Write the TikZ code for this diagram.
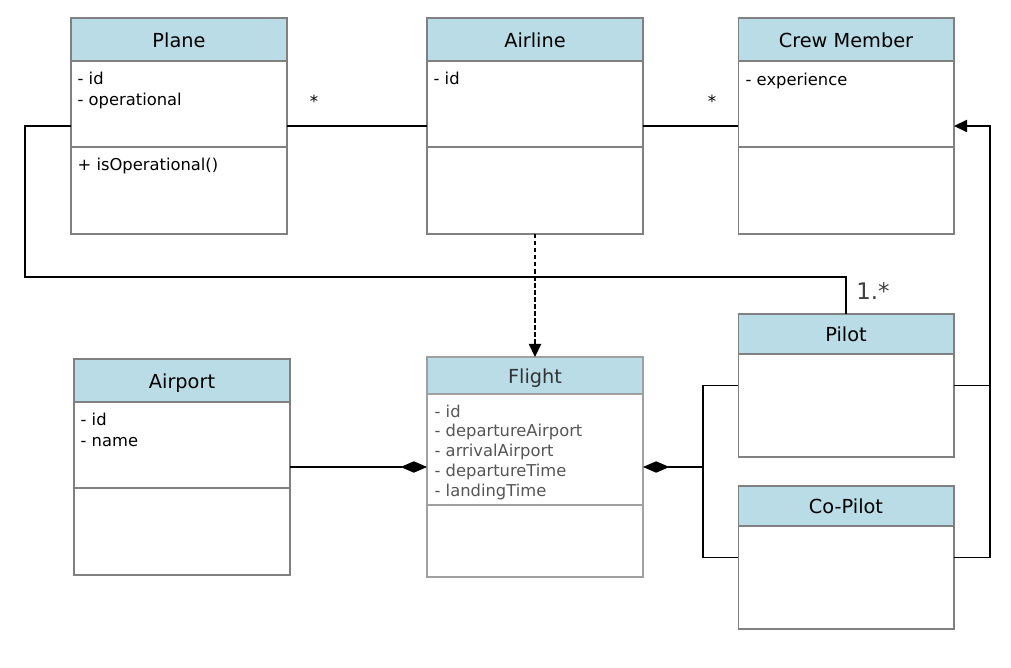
\documentclass[tikz,border=0pt]{standalone}
\usepackage{fontspec}
\setmainfont{DejaVu Sans}
\usetikzlibrary{arrows.meta, positioning}
\definecolor{headblue}{RGB}{185,220,230}
\definecolor{boxgray}{RGB}{128,128,128}
\definecolor{textgray}{RGB}{85,85,85}

\begin{document}
\begin{tikzpicture}[x=0.02cm,y=-0.02cm,line width=0.75pt,
	>={Triangle[length=7.5pt,width=7pt]}]

	\tikzset{class body/.style={draw=boxgray, line width=0.6pt, fill=white,
			minimum width=4.32cm, inner sep=0pt, outer sep=0pt}}
	\tikzset{class head/.style={draw=boxgray, line width=0.6pt, fill=headblue,
			minimum width=4.32cm, inner sep=0pt, outer sep=0pt, anchor=north,
			text height=0.9em, text depth=0pt,
			font=\fontsize{11}{13}\selectfont}}
	\tikzset{divider/.style={draw=boxgray, line width=0.6pt}}
	\tikzset{attr/.style={anchor=north west, align=left, inner sep=0pt,
			font=\fontsize{9.3}{12}\selectfont}}
	\tikzset{mult/.style={inner sep=0pt, font=\fontsize{9.5}{11}\selectfont}}
	\tikzset{compose/.style={{Diamond[length=15pt,width=6.5pt]}-}}

	\useasboundingbox (0,0) rectangle (1011,668);

	% top row
	\node[class body, minimum height=4.32cm] (plane) at (179,126) {};
	\node[class head, minimum height=0.86cm] (plane head) at (plane.north) {Plane};
	\coordinate (plane div) at (179,147);
	\draw[divider] (plane.west |- plane div) -- (plane.east |- plane div);
	\node[attr] (plane attr) at (77,71) {- id\\- operational};
	\node[attr] (plane ops) at (77,157) {+ isOperational()};

	\node[class body, minimum height=4.32cm] (airline) at (535,126) {};
	\node[class head, minimum height=0.86cm] (airline head) at (airline.north) {Airline};
	\coordinate (airline div) at (535,147);
	\draw[divider] (airline.west |- airline div) -- (airline.east |- airline div);
	\node[attr] (airline attr) at (433,71) {- id};

	\node[class body, minimum height=4.32cm] (crew) at (846,126) {};
	\node[class head, minimum height=0.86cm] (crew head) at (crew.north) {Crew Member};
	\coordinate (crew div) at (846,147);
	\draw[divider] (crew.west |- crew div) -- (crew.east |- crew div);
	\node[attr] (crew attr) at (745,72) {- experience};

	% bottom row
	\node[class body, minimum height=4.32cm] (airport) at (182,467) {};
	\node[class head, minimum height=0.86cm] (airport head) at (airport.north) {Airport};
	\coordinate (airport div) at (182,488);
	\draw[divider] (airport.west |- airport div) -- (airport.east |- airport div);
	\node[attr] (airport attr) at (80,412) {- id\\- name};

	\node[class body, draw=boxgray!75, line width=1pt, minimum height=4.4cm] (flight) at (535,467) {};
	\node[class head, draw=boxgray!75, line width=1pt, minimum height=0.74cm,
		text=black!80] (flight head) at (flight.north) {Flight};
	\coordinate (flight div) at (535,505);
	\draw[divider, draw=boxgray!75, line width=1pt] (flight.west |- flight div) -- (flight.east |- flight div);
	\node[attr, text=textgray, font=\fontsize{9.3}{11.3}\selectfont] (flight attr) at (434,404)
		{- id\\- departureAirport\\- arrivalAirport\\- departureTime\\- landingTime};

	\node[class body, minimum height=2.86cm] (pilot) at (846,385.5) {};
	\node[class head, minimum height=0.8cm] (pilot head) at (pilot.north) {Pilot};

	\node[class body, minimum height=2.86cm] (copilot) at (846,557.5) {};
	\node[class head, minimum height=0.8cm] (copilot head) at (copilot.north) {Co-Pilot};

	% associations
	\draw (plane.east) -- (airline.west);
	\draw (airline.east) -- (crew.west);
	\node[mult] (plane star) at (314,101) {*};
	\node[mult] (crew star) at (712,101) {*};

	\coordinate (loop corner) at (25,277);
	\draw (plane.west) -| (loop corner) -| (pilot.north);
	\node[inner sep=0pt, text=black!75, font=\fontsize{13}{15}\selectfont] (pilot mult) at (873,291) {1.*};

	\draw[->, dash pattern=on 2.5pt off 1.5pt] (airline.south) -- (flight.north);

	% composition
	\draw[compose] (flight.west) -- (airport.east);
	\draw[compose] (flight.east) -- ++(60,0) coordinate (crew join);
	\draw (pilot.west) -| (crew join) |- (copilot.west);

	% generalisation
	\draw (pilot.east) -- ++(36,0) coordinate (gen join);
	\draw[->] (copilot.east) -| (gen join) |- (crew.east);
\end{tikzpicture}
\end{document}
